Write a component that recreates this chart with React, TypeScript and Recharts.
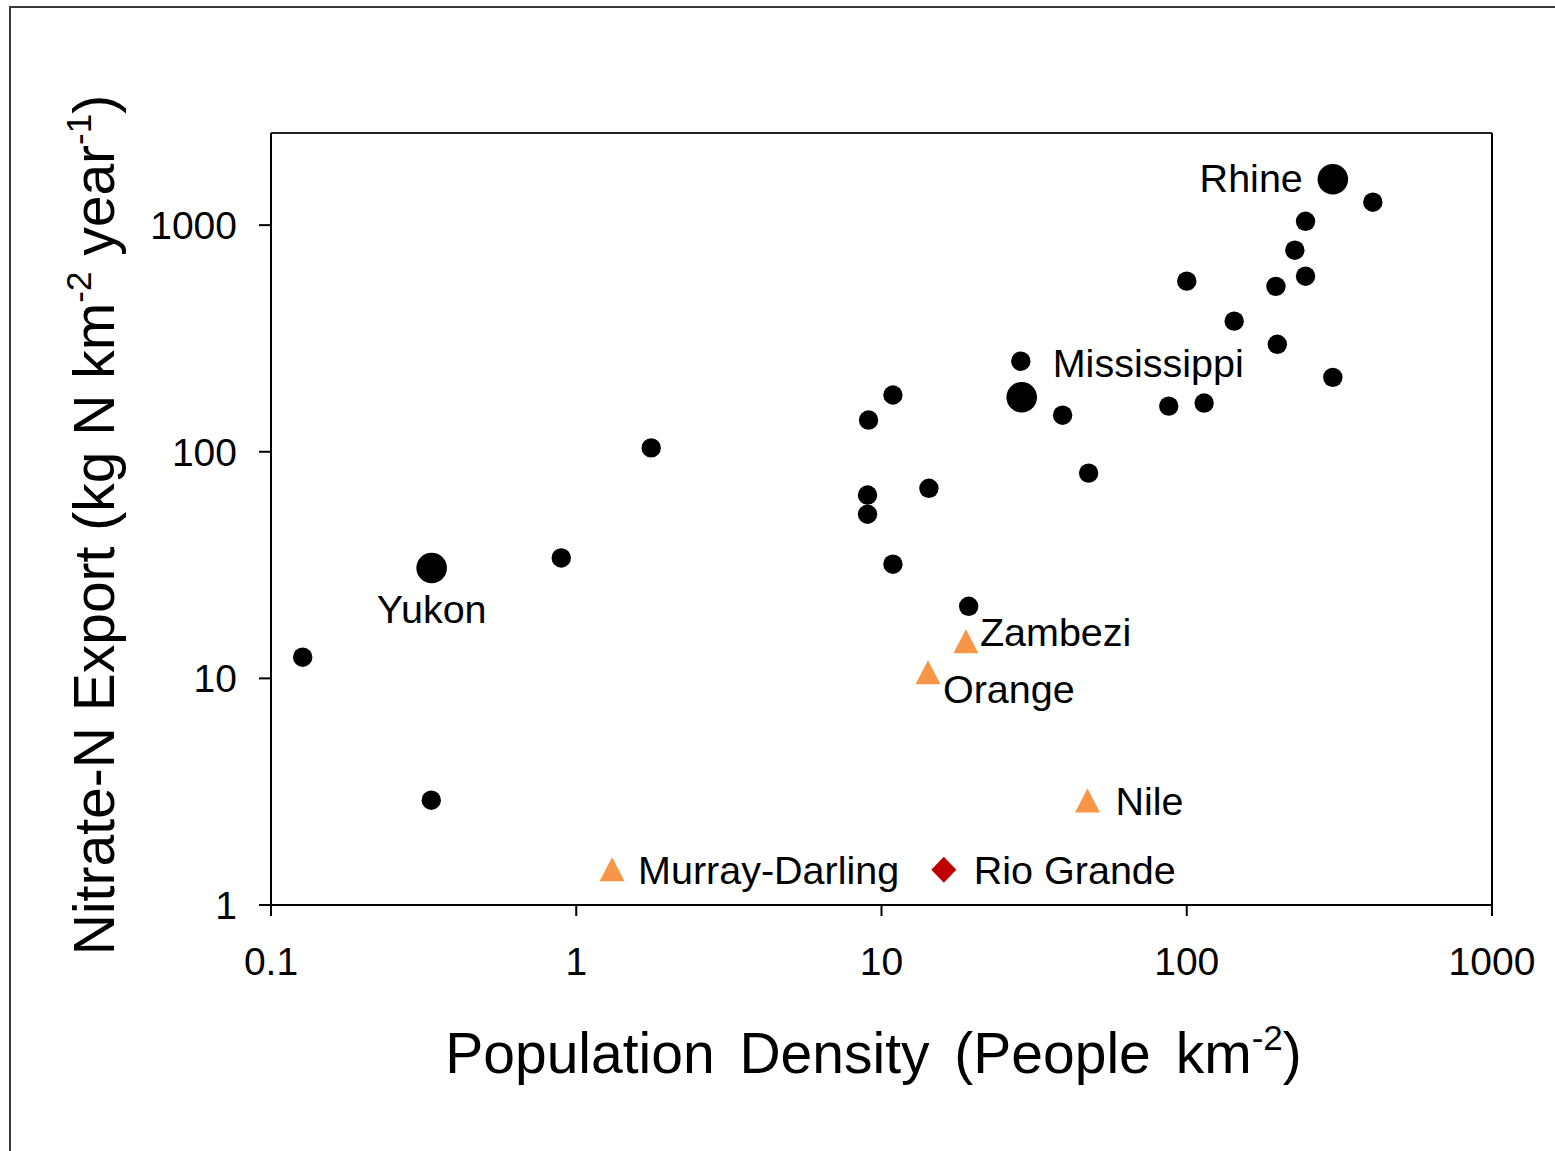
import React from 'react';
import { ScatterChart, Scatter, XAxis, YAxis, ReferenceLine } from 'recharts';

const FONT = '"Liberation Sans", Arial, Helvetica, sans-serif';

// Population density (people km-2) vs nitrate-N export (kg N km-2 yr-1)
const otherDensity = [0.127, 0.335, 0.893, 1.76, 9.07, 10.9, 9.0, 9.0, 14.3, 10.9, 19.3, 28.6, 39.2, 47.7, 87.3, 114, 100, 143, 196, 198, 226, 245, 245, 301, 407];
const otherExport = [12.4, 2.9, 34, 104, 138, 178, 64.4, 53, 69, 31.9, 20.8, 251, 145, 80.5, 159, 164, 566, 377, 537, 298, 775, 1040, 595, 213, 1262];

const majorRivers = ['Yukon', 'Mississippi', 'Rhine'];
const majorDensity = [0.336, 28.8, 301];
const majorExport = [30.7, 174, 1594];

const dryRivers = ['Zambezi', 'Orange', 'Nile', 'Murray-Darling'];
const dryDensity = [18.9, 14.2, 47.3, 1.31];
const dryExport = [14.5, 10.6, 2.88, 1.43];

const diamondRivers = ['Rio Grande'];
const diamondDensity = [16.0];
const diamondExport = [1.43];

const xTicks = [0.1, 1, 10, 100, 1000];
const yTicks = [1, 10, 100, 1000];
const yMax = 2550;

const toPoints = (xs: number[], ys: number[], names?: string[]) =>
  xs.map((x, i) => ({ x, y: ys[i], name: names ? names[i] : '' }));

const otherData = toPoints(otherDensity, otherExport);
const majorData = toPoints(majorDensity, majorExport, majorRivers);
const dryData = toPoints(dryDensity, dryExport, dryRivers);
const diamondData = toPoints(diamondDensity, diamondExport, diamondRivers);

// where each river name sits relative to its marker
const LABEL_PLACEMENT: Record<string, { dx: number; dy: number; anchor: 'start' | 'middle' | 'end' }> = {
  Rhine: { dx: -30, dy: 13, anchor: 'end' },
  Mississippi: { dx: 31, dy: -20, anchor: 'start' },
  Yukon: { dx: 0, dy: 55, anchor: 'middle' },
  Zambezi: { dx: 14, dy: 4, anchor: 'start' },
  Orange: { dx: 15, dy: 30, anchor: 'start' },
  Nile: { dx: 28, dy: 14, anchor: 'start' },
  'Murray-Darling': { dx: 26, dy: 14, anchor: 'start' },
  'Rio Grande': { dx: 30, dy: 14, anchor: 'start' },
};

const RiverName = ({ cx, cy, name }: { cx: number; cy: number; name: string }) => {
  const p = LABEL_PLACEMENT[name];
  if (!p) return null;
  return (
    <text x={cx + p.dx} y={cy + p.dy} textAnchor={p.anchor} fontSize={39.5} fontFamily={FONT} fill="#000">
      {name}
    </text>
  );
};

const smallDot = (props: any) => <circle cx={props.cx} cy={props.cy} r={9.7} fill="#000" />;

const bigDot = (props: any) => (
  <g>
    <circle cx={props.cx} cy={props.cy} r={15.3} fill="#000" />
    <RiverName cx={props.cx} cy={props.cy} name={props.payload.name} />
  </g>
);

const triangle = (props: any) => {
  const { cx, cy } = props;
  return (
    <g>
      <polygon points={`${cx},${cy - 12.5} ${cx + 12.5},${cy + 11.5} ${cx - 12.5},${cy + 11.5}`} fill="#F79646" />
      <RiverName cx={cx} cy={cy} name={props.payload.name} />
    </g>
  );
};

const diamond = (props: any) => {
  const { cx, cy } = props;
  return (
    <g>
      <polygon points={`${cx},${cy - 13} ${cx + 12.5},${cy} ${cx},${cy + 13} ${cx - 12.5},${cy}`} fill="#C00000" />
      <RiverName cx={cx} cy={cy} name={props.payload.name} />
    </g>
  );
};

const XTitle = (props: any) => {
  const vb = props.viewBox;
  return (
    <text x={vb.x + vb.width / 2 - 8} y={vb.y + 168} textAnchor="middle" fontSize={57} fontFamily={FONT} fill="#000" wordSpacing={9}>
      Population Density (People km
      <tspan dy={-23} fontSize={35}>-2</tspan>
      <tspan dy={23}>)</tspan>
    </text>
  );
};

const YTitle = () => {
  const x = 114;
  const y = 525;
  return (
    <text x={x} y={y} transform={`rotate(-90 ${x} ${y})`} textAnchor="middle" fontSize={57} fontFamily={FONT} fill="#000">
      Nitrate-N Export (kg N km
      <tspan dy={-23} fontSize={35}>-2</tspan>
      <tspan dy={23}> year</tspan>
      <tspan dy={-23} fontSize={35}>-1</tspan>
      <tspan dy={23}>)</tspan>
    </text>
  );
};

export default function App() {
  return (
    <div style={{ position: 'absolute', left: 0, top: 0, width: 1555, height: 1151, background: '#fff' }}>
      <div
        style={{
          position: 'absolute',
          left: 9,
          top: 6,
          width: 1546,
          height: 1145,
          borderLeft: '2px solid #3a3a3a',
          borderTop: '2px solid #3a3a3a',
          boxSizing: 'border-box',
        }}
      />
      <ScatterChart
        width={1555}
        height={1151}
        margin={{ top: 133, right: 63, bottom: 0, left: 60 }}
        style={{ position: 'absolute', left: 0, top: 0 }}
      >
        <XAxis
          type="number"
          dataKey="x"
          scale="log"
          domain={[0.1, 1000]}
          ticks={xTicks}
          allowDataOverflow
          height={246}
          stroke="#000"
          strokeWidth={2}
          tickSize={11}
          tickMargin={31}
          tick={{ fill: '#000', fontSize: 39, fontFamily: FONT }}
          label={{ content: XTitle }}
        />
        <YAxis
          type="number"
          dataKey="y"
          scale="log"
          domain={[1, yMax]}
          ticks={yTicks}
          allowDataOverflow
          width={211}
          stroke="#000"
          strokeWidth={2}
          tickSize={12}
          tickMargin={22}
          tick={{ fill: '#000', fontSize: 39, fontFamily: FONT }}
          label={{ content: YTitle }}
        />
        <ReferenceLine y={yMax} stroke="#222" strokeWidth={2} />
        <ReferenceLine x={1000} stroke="#000" strokeWidth={2} />
        <Scatter data={otherData} shape={smallDot} isAnimationActive={false} />
        <Scatter data={majorData} shape={bigDot} isAnimationActive={false} />
        <Scatter data={dryData} shape={triangle} isAnimationActive={false} />
        <Scatter data={diamondData} shape={diamond} isAnimationActive={false} />
      </ScatterChart>
    </div>
  );
}
